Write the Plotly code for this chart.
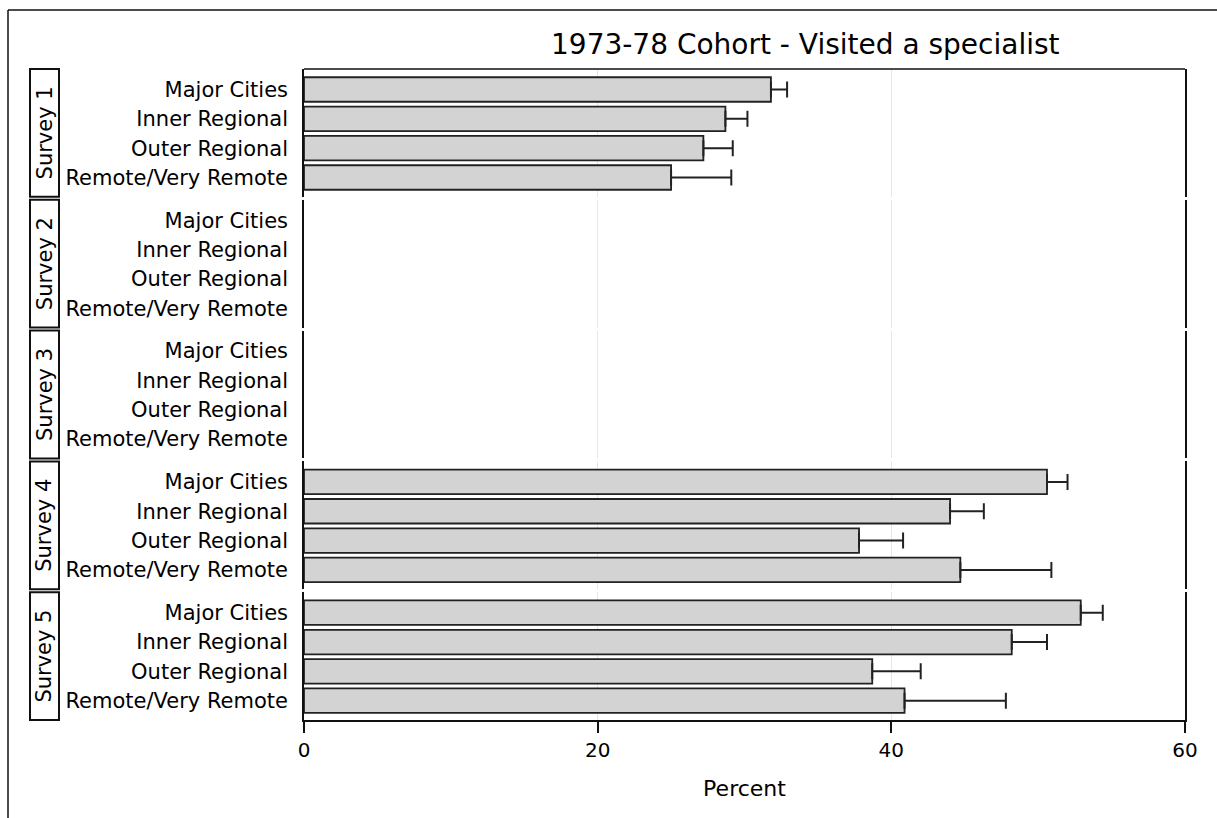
import plotly.graph_objects as go
from plotly.subplots import make_subplots

title_text = "1973-78 Cohort - Visited a specialist"
categories = ["Major Cities", "Inner Regional", "Outer Regional", "Remote/Very Remote"]
surveys = ["Survey 1", "Survey 2", "Survey 3", "Survey 4", "Survey 5"]

pct_s1 = [31.8, 28.7, 27.2, 25.0]
upper_s1 = [32.9, 30.2, 29.2, 29.1]
pct_s2 = [None, None, None, None]
upper_s2 = [None, None, None, None]
pct_s3 = [None, None, None, None]
upper_s3 = [None, None, None, None]
pct_s4 = [50.6, 44.0, 37.8, 44.7]
upper_s4 = [52.0, 46.3, 40.8, 50.9]
pct_s5 = [52.9, 48.2, 38.7, 40.9]
upper_s5 = [54.4, 50.6, 42.0, 47.8]

x_ticks = [0, 20, 40, 60]
x_title = "Percent"

pct_all = [pct_s1, pct_s2, pct_s3, pct_s4, pct_s5]
upper_all = [upper_s1, upper_s2, upper_s3, upper_s4, upper_s5]

FONT = "DejaVu Sans, Liberation Sans, Arial, sans-serif"
W, H = 1217, 818
ML, MR, MT, MB = 304, 32, 69, 98
PW = W - ML - MR
PH = H - MT - MB

def px_to_paper_x(px):
    return (px - ML) / PW

def py_to_paper_y(py):
    return (H - MB - py) / PH

fig = make_subplots(rows=5, cols=1, shared_xaxes=True, vertical_spacing=3 / PH)

for i, (vals, ups) in enumerate(zip(pct_all, upper_all)):
    plus = [(u - v) if (u is not None and v is not None) else None for v, u in zip(vals, ups)]
    fig.add_trace(
        go.Bar(
            x=vals, y=categories, orientation="h", width=0.835,
            marker=dict(color="#d3d3d3", line=dict(color="#222222", width=1.8)),
            error_x=dict(type="data", symmetric=False, array=plus,
                         arrayminus=[0 if p is not None else None for p in plus],
                         color="#222222", thickness=2, width=8),
            showlegend=False, hoverinfo="x+y",
        ),
        row=i + 1, col=1,
    )
    fig.update_yaxes(
        type="category", categoryorder="array", categoryarray=categories,
        range=[3.658, -0.699], showline=True, linecolor="#111111", linewidth=1.6,
        mirror=True, showgrid=False, ticks="", ticklabelstandoff=10,
        tickfont=dict(family=FONT, size=21, color="black"), fixedrange=True,
        row=i + 1, col=1,
    )
    fig.update_xaxes(
        range=[0, 60], tickvals=x_ticks, showgrid=True, gridcolor="#e6e6e6",
        gridwidth=1, zeroline=False, showline=False, ticks="",
        showticklabels=False, row=i + 1, col=1,
    )

fig.update_xaxes(
    showline=True, linecolor="#111111", linewidth=1.6, ticks="outside",
    ticklen=11, tickwidth=1.6, tickcolor="#111111", showticklabels=True,
    ticktext=[str(t) for t in x_ticks],
    tickfont=dict(family=FONT, size=20, color="black"), ticklabelstandoff=0,
    title=dict(text=x_title, font=dict(family=FONT, size=22, color="black"), standoff=20),
    row=5, col=1,
)

shapes = []
annotations = []
# top border of plot region
shapes.append(dict(type="line", xref="paper", yref="paper", x0=0, x1=1, y0=1, y1=1,
                   line=dict(color="#111111", width=1.6)))
# strip boxes
for i, s in enumerate(surveys):
    yd = "y domain" if i == 0 else f"y{i + 1} domain"
    shapes.append(dict(type="rect", xref="paper", yref=yd,
                       x0=px_to_paper_x(30), x1=px_to_paper_x(59), y0=0, y1=1,
                       line=dict(color="#111111", width=2), fillcolor="white"))
    annotations.append(dict(text=s, xref="paper", yref=yd, x=px_to_paper_x(44.5), y=0.5,
                            showarrow=False, textangle=-90,
                            font=dict(family=FONT, size=21, color="black"),
                            xanchor="center", yanchor="middle"))
# outer frame (left and top edges)
shapes.append(dict(type="line", xref="paper", yref="paper",
                   x0=px_to_paper_x(8), x1=px_to_paper_x(8),
                   y0=py_to_paper_y(830), y1=py_to_paper_y(10),
                   line=dict(color="#111111", width=1.5)))
shapes.append(dict(type="line", xref="paper", yref="paper",
                   x0=px_to_paper_x(8), x1=px_to_paper_x(1230),
                   y0=py_to_paper_y(10), y1=py_to_paper_y(10),
                   line=dict(color="#111111", width=1.5)))
# title
annotations.append(dict(text=title_text, xref="paper", yref="paper",
                        x=px_to_paper_x(805), y=py_to_paper_y(45),
                        showarrow=False, xanchor="center", yanchor="middle",
                        font=dict(family=FONT, size=28, color="black")))

fig.update_layout(
    width=W, height=H, margin=dict(l=ML, r=MR, t=MT, b=MB),
    paper_bgcolor="white", plot_bgcolor="white",
    shapes=shapes, annotations=annotations, bargap=0.16,
    font=dict(family=FONT, color="black"),
)

fig.write_html("out.html")
